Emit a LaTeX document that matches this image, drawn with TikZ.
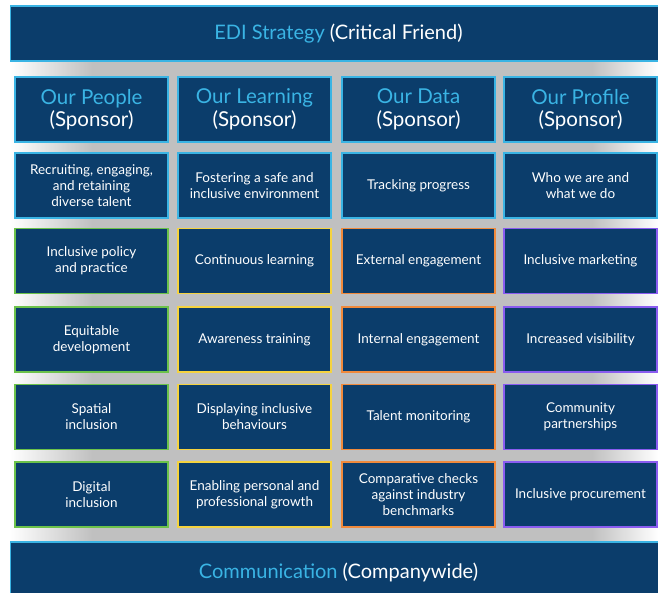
\documentclass[tikz,border=0pt]{standalone}
\usepackage{fontspec}
\setmainfont{Lato}
\definecolor{navy}{HTML}{0B3D6B}
\definecolor{edicyan}{HTML}{3AB4E4}
\definecolor{edigreen}{HTML}{6CC24A}
\definecolor{ediyellow}{HTML}{F5D33F}
\definecolor{ediorange}{HTML}{F08A3C}
\definecolor{edipurple}{HTML}{8A5CF0}
\definecolor{bandgrey}{HTML}{C0C0C0}
\tikzset{
  tile/.style={draw=#1, fill=navy, line width=1.5pt, minimum width=153pt,
    minimum height=65pt, inner sep=2pt, align=center, text=white,
    font=\fontsize{13.5}{16}\selectfont},
  headtile/.style={tile=edicyan, font=\fontsize{20.5}{22.5}\selectfont},
  banner/.style={draw=edicyan, fill=navy, line width=1.5pt, minimum width=656pt,
    minimum height=55pt, text=white, font=\fontsize{20}{22}\selectfont}
}
\newcommand{\hl}[1]{\textcolor{edicyan}{#1}}
\begin{document}
\begin{tikzpicture}[x=1pt,y=-1pt]
\useasboundingbox (0,0) rectangle (658,592);
\clip (0,0) rectangle (658,592);
% grey band behind the grid, fading to white at both sides
\fill[bandgrey] (10,60) rectangle (658,544);
\shade[left color=white, right color=bandgrey] (10,60) rectangle (92,544);
\shade[left color=bandgrey, right color=white] (592,60) rectangle (658,544);

% top and bottom banners
\node[banner] (edi) at (338.5,33.5) {\hl{EDI Strategy} (Critical Friend)};
\node[banner, minimum height=60pt] (comm) at (338.5,572) {\hl{Communication} (Companywide)};

% column heads
\node[headtile] (people)   at (91.5,109.5)  {\hl{Our People}\\(Sponsor)};
\node[headtile] (learning) at (254.5,109.5) {\hl{Our Learning}\\(Sponsor)};
\node[headtile] (data)     at (418.5,109.5) {\hl{Our Data}\\(Sponsor)};
\node[headtile] (profile)  at (580.5,109.5) {\hl{Our Profile}\\(Sponsor)};

% first row: cyan outline
\node[tile=edicyan] (p1) at (91.5,185.5)  {Recruiting, engaging,\\and retaining\\diverse talent};
\node[tile=edicyan] (l1) at (254.5,185.5) {Fostering a safe and\\inclusive environment};
\node[tile=edicyan] (d1) at (418.5,185.5) {Tracking progress};
\node[tile=edicyan] (f1) at (580.5,185.5) {Who we are and\\what we do};

% Our People
\node[tile=edigreen] (p2) at (91.5,261)   {Inclusive policy\\and practice};
\node[tile=edigreen] (p3) at (91.5,339.5) {Equitable\\development};
\node[tile=edigreen] (p4) at (91.5,417)   {Spatial\\inclusion};
\node[tile=edigreen] (p5) at (91.5,494.5) {Digital\\inclusion};

% Our Learning
\node[tile=ediyellow] (l2) at (254.5,261)   {Continuous learning};
\node[tile=ediyellow] (l3) at (254.5,339.5) {Awareness training};
\node[tile=ediyellow] (l4) at (254.5,417)   {Displaying inclusive\\behaviours};
\node[tile=ediyellow] (l5) at (254.5,494.5) {Enabling personal and\\professional growth};

% Our Data
\node[tile=ediorange] (d2) at (418.5,261)   {External engagement};
\node[tile=ediorange] (d3) at (418.5,339.5) {Internal engagement};
\node[tile=ediorange] (d4) at (418.5,417)   {Talent monitoring};
\node[tile=ediorange] (d5) at (418.5,494.5) {Comparative checks\\against industry\\benchmarks};

% Our Profile
\node[tile=edipurple] (f2) at (580.5,261)   {Inclusive marketing};
\node[tile=edipurple] (f3) at (580.5,339.5) {Increased visibility};
\node[tile=edipurple] (f4) at (580.5,417)   {Community\\partnerships};
\node[tile=edipurple] (f5) at (580.5,494.5) {Inclusive procurement};
\end{tikzpicture}
\end{document}
